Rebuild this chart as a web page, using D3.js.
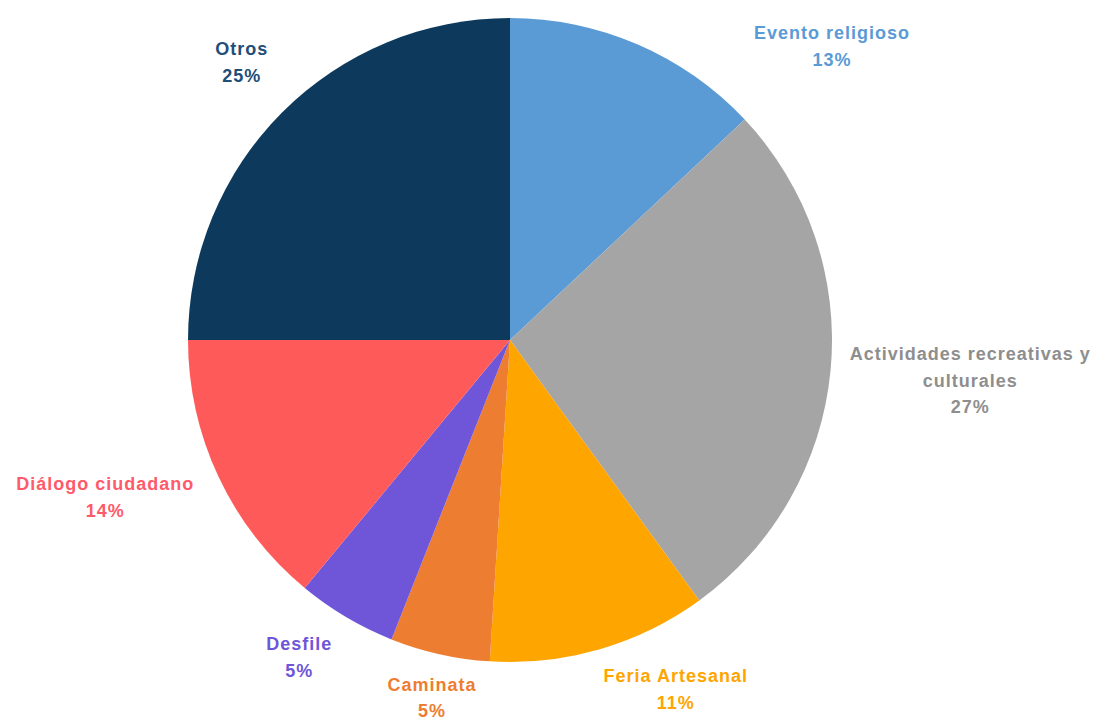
<!DOCTYPE html>
<html><head><meta charset="utf-8">
<script src="https://cdn.jsdelivr.net/npm/d3@7"></script>
<style>body{margin:0;background:#fff}svg{display:block}</style>
</head><body>
<svg id="c" width="1101" height="720"></svg>
<script>
const categories = ["Evento religioso","Actividades recreativas y culturales","Feria Artesanal","Caminata","Desfile","Diálogo ciudadano","Otros"];
const values = [13,27,11,5,5,14,25];
const labelLines = [["Evento religioso"],["Actividades recreativas y","culturales"],["Feria Artesanal"],["Caminata"],["Desfile"],["Diálogo ciudadano"],["Otros"]];
const colors = ["#5B9BD5","#A5A5A5","#FFA500","#ED7D31","#6F55D8","#FF5A5A","#0D3A5C"];
const textColors = ["#5B9BD5","#8E8E8E","#FFA500","#ED7D31","#6F55D8","#FF5A6A","#1F4E79"];
// label layout: angle offset (deg) from slice mid-angle, radius factor relative to pie radius
const labelAngleOffset = [24.2,-0.4,-9.2,-0.3,3,4,1];
const labelRadiusFactor = [1.354,1.435,1.20,1.137,1.183,1.348,1.199];

const svg = d3.select("#c");
const cx = 510, cy = 340, R = 322;
const g = svg.append("g").attr("transform",`translate(${cx},${cy})`);
const pie = d3.pie().sort(null).value(d=>d);
const arcs = pie(values);
const arc = d3.arc().innerRadius(0).outerRadius(R);
g.selectAll("path").data(arcs).join("path")
  .attr("d",arc).attr("fill",(d,i)=>colors[i]);

const fmt = v => v + "%";
const lh = 26.5;
arcs.forEach((d,i)=>{
  const mid = (d.startAngle+d.endAngle)/2 + labelAngleOffset[i]*Math.PI/180;
  const r = R*labelRadiusFactor[i];
  const x = Math.sin(mid)*r, y = -Math.cos(mid)*r;
  const lines = labelLines[i].concat([fmt(values[i])]);
  const y0 = y - (lines.length-1)*lh/2;
  const t = g.append("text").attr("text-anchor","middle")
    .attr("font-family","'Liberation Sans', Arial, sans-serif")
    .attr("font-size",18).attr("font-weight","bold")
    .attr("letter-spacing","1px").attr("fill",textColors[i]);
  lines.forEach((ln,j)=>{
    t.append("tspan").attr("x",x).attr("y",y0+j*lh).attr("dy","0.35em").text(ln);
  });
});
</script>
</body></html>
